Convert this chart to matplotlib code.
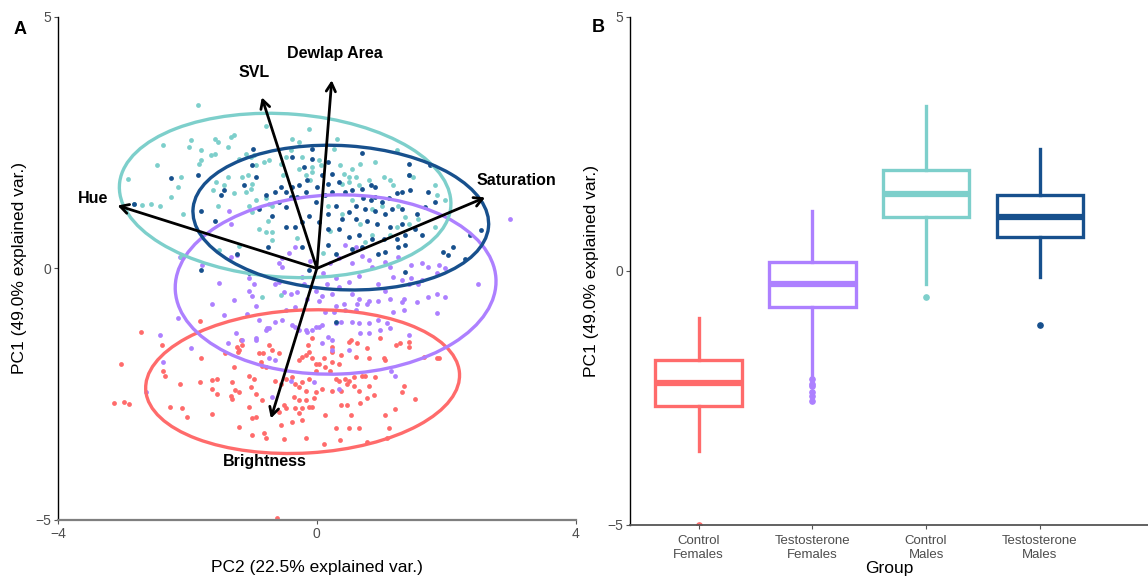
import numpy as np
import matplotlib
matplotlib.use("Agg")
import matplotlib.pyplot as plt
from matplotlib.patches import Ellipse

plt.rcParams['font.family'] = ['Liberation Sans', 'DejaVu Sans']

# ---------------- data ----------------
groups = ["Control Females", "Testosterone Females", "Control Males", "Testosterone Males"]
group_labels = ["Control\nFemales", "Testosterone\nFemales", "Control\nMales", "Testosterone\nMales"]
colors = ["#FF6B6B", "#AD80FF", "#7DCFCB", "#17508D"]

# PCA scores (PC2, PC1) per group
cf_scores = [
    (-2.71, -1.27), (-2.40, -1.53), (-3.02, -1.89), (-3.14, -2.68), (-2.98, -2.66), (-2.91, -2.70),
    (-2.37, -2.03), (-2.34, -2.13), (-2.12, -2.29), (-2.27, -2.76), (-2.08, -2.78), (-2.00, -2.96),
    (-1.79, -1.79), (-1.80, -2.26), (-1.62, -2.21), (-1.54, -2.19), (-1.62, -2.39), (-1.55, -2.50),
    (-1.62, -2.90), (-1.31, -2.26), (-1.33, -2.54), (-1.31, -2.60), (-1.26, -2.41), (-1.20, -2.46),
    (-1.42, -1.69), (-1.23, -1.56), (-1.15, -1.53), (-1.22, -1.66), (-1.28, -1.96), (-1.05, -2.13),
    (-0.97, -2.19), (-0.89, -1.69), (-0.83, -1.68), (-0.74, -1.53), (-0.69, -1.63), (-0.58, -1.69),
    (-0.87, -1.86), (-0.85, -1.93), (-0.79, -1.96), (-1.02, -2.36), (-0.94, -2.49), (-0.85, -2.62),
    (-1.05, -2.76), (-0.94, -2.96), (-1.00, -2.98), (-1.20, -3.16), (-1.00, -3.32), (-0.82, -3.28),
    (-0.79, -3.38), (-0.56, -3.12), (-0.51, -3.40), (-0.38, -3.06), (-0.28, -2.88), (-0.33, -2.78),
    (-0.23, -2.78), (-0.17, -3.38), (-0.64, -2.23), (-0.56, -2.29), (-0.48, -2.19), (-0.38, -2.16),
    (-0.33, -2.29), (-0.28, -2.36), (-0.23, -2.26), (-0.12, -2.19), (-0.17, -2.43), (-0.35, -2.56),
    (-0.28, -2.62), (-0.17, -2.62), (-0.08, -2.76), (-0.51, -2.72), (-0.48, -2.78), (-0.28, -1.83),
    (-0.23, -1.76), (-0.14, -1.53), (-0.12, -1.66), (-0.02, -1.89), (-0.02, -2.03), (-0.08, -1.39),
    (-0.58, -2.86), (-0.17, -1.73), (-0.08, -1.79), (0.11, -1.79), (0.23, -1.66), (0.23, -1.56),
    (0.38, -1.73), (0.49, -1.47), (0.52, -1.43), (0.62, -1.49), (0.60, -1.76), (0.77, -1.59),
    (0.80, -1.79), (0.98, -1.39), (1.03, -1.79), (1.06, -1.83), (1.23, -1.53), (1.29, -1.49),
    (1.42, -1.47), (1.42, -1.56), (1.65, -1.76), (1.85, -1.79), (1.88, -1.79), (0.03, -1.89),
    (0.13, -1.96), (0.23, -1.86), (0.34, -1.89), (0.21, -2.03), (0.29, -2.19), (0.34, -2.23),
    (0.44, -2.19), (0.49, -2.23), (0.57, -2.16), (0.69, -2.13), (0.75, -2.13), (0.90, -2.16),
    (0.46, -2.29), (0.57, -2.33), (0.80, -2.33), (0.65, -2.43), (0.38, -2.43), (0.08, -2.39),
    (-0.02, -2.45), (-0.05, -2.58), (0.23, -2.43), (0.88, -2.52), (0.77, -2.58), (1.34, -2.33),
    (1.31, -2.46), (1.52, -2.60), (1.21, -2.80), (1.06, -2.92), (0.38, -2.72), (0.46, -2.72),
    (0.67, -2.68), (0.52, -2.92), (0.13, -2.92), (-0.12, -2.76), (-0.23, -3.02), (0.29, -3.18),
    (0.49, -3.18), (0.65, -3.18), (1.11, -3.18), (1.08, -3.38), (0.11, -3.48), (0.36, -3.42),
    (0.77, -3.45), (-0.62, -4.97), (-1.80, -1.05), (-1.17, -1.43), (-1.20, -1.63),
]

tf_scores = [
    (-1.77, 0.06), (-1.51, -0.29), (-1.62, -0.70), (-1.28, -0.62), (-1.43, -0.93), (-1.05, -0.20),
    (-0.97, -0.30), (-1.05, -0.44), (-1.00, -0.54), (-0.94, -0.74), (-1.08, -0.91), (-0.89, -1.03),
    (-0.77, -1.19), (-0.64, -1.07), (-0.64, -0.30), (-0.58, -0.27), (-0.51, -0.47), (-0.40, -0.50),
    (-0.31, -0.47), (-0.02, -0.44), (0.03, -0.64), (0.08, -0.54), (-0.33, -0.77), (-0.48, -0.83),
    (-0.54, -1.03), (-0.33, -1.17), (-0.17, -1.23), (-0.02, -1.17), (0.08, -1.13), (-0.94, -1.43),
    (-1.25, -1.29), (-1.15, -1.43), (-1.38, -1.49), (-2.43, -1.33), (-1.94, -1.59), (-2.15, -0.99),
    (-1.33, 0.22), (-1.23, 0.26), (-0.54, 0.20), (-0.43, 0.30), (-0.33, 0.42), (-0.58, 0.10),
    (-0.54, 0.03), (-0.23, -0.17), (-0.20, -0.30), (0.44, 0.46), (0.60, 0.42), (0.80, 0.16),
    (0.85, 0.03), (1.06, 0.13), (1.13, 0.03), (1.26, 0.22), (1.46, 0.06), (1.62, 0.10),
    (1.72, 0.03), (1.88, 0.06), (1.98, 0.00), (1.85, -0.10), (1.62, -0.24), (1.46, -0.20),
    (1.31, -0.24), (1.18, -0.17), (1.42, -0.30), (1.57, -0.30), (2.49, -0.30), (1.85, -0.50),
    (1.98, -0.57), (1.72, -0.57), (1.54, -0.67), (1.34, -0.60), (1.31, -0.67), (1.13, -0.60),
    (0.95, -0.64), (0.80, -0.64), (0.65, -0.60), (0.54, -0.50), (0.49, -0.27), (0.34, -0.37),
    (0.23, -0.50), (0.42, -0.70), (0.62, -0.70), (0.77, -0.70), (0.29, -0.74), (0.13, -0.87),
    (0.26, -0.87), (0.44, -0.83), (0.60, -0.83), (1.18, -0.87), (1.34, -0.83), (1.85, -0.89),
    (0.38, -1.07), (0.54, -1.07), (0.65, -1.09), (0.80, -1.09), (0.95, -1.03), (1.08, -1.09),
    (0.98, -1.23), (1.13, -1.19), (0.18, -1.37), (0.23, -1.43), (0.67, -1.29), (0.23, -1.63),
    (0.49, -1.63), (0.08, -1.49), (-2.38, -1.86), (-0.94, -1.39), (-0.79, -1.23), (-0.74, -1.19),
    (-0.38, -1.13), (-0.28, -1.23), (-0.15, -1.27), (-0.08, -1.23), (-0.74, -1.79), (-0.64, -1.83),
    (-0.40, -2.23), (-0.69, -2.56), (-2.64, -2.46), (0.29, -1.09), (0.80, -1.29), (1.42, -1.33),
    (1.15, -2.03), (1.21, -2.13), (-0.05, -2.26), (0.34, -2.39), (0.03, -1.17), (2.98, 0.99),
    (-2.12, 0.22), (-1.35, 1.15), (-1.33, 0.89), (0.10, -0.10), (0.20, 0.10), (-0.10, 0.15),
    (0.30, -0.20), (0.55, 0.10), (0.65, -0.15), (0.95, -0.30), (1.05, -0.45), (0.15, -0.30),
    (-0.15, -0.60), (0.70, 0.25), (0.35, 0.20),
]

cm_scores = [
    (-1.84, 3.25), (-2.38, 2.46), (-2.47, 2.05), (-2.92, 1.77), (-2.82, 1.29), (-2.70, 1.27),
    (-2.56, 1.29), (-2.43, 1.25), (-2.25, 1.42), (-2.15, 1.62), (-2.10, 1.82), (-2.07, 1.09),
    (-1.94, 2.56), (-1.97, 2.41), (-1.79, 2.35), (-1.64, 2.25), (-1.58, 2.28), (-1.79, 2.15),
    (-1.82, 2.08), (-1.58, 2.58), (-1.53, 2.52), (-1.38, 2.41), (-1.33, 2.61), (-1.28, 2.66),
    (-1.20, 2.18), (-1.10, 2.28), (-1.02, 2.21), (-0.97, 2.25), (-0.94, 2.05), (-0.82, 2.11),
    (-0.74, 2.15), (-1.15, 1.82), (-1.07, 1.85), (-1.00, 1.68), (-1.56, 1.72), (-1.43, 1.65),
    (-1.38, 1.82), (-1.61, 1.55), (-1.28, 1.49), (-1.10, 1.52), (-1.02, 1.58), (-0.94, 1.35),
    (-1.53, 1.25), (-1.05, 1.25), (-1.00, 1.12), (-0.79, 1.39), (-0.74, 1.29), (-0.69, 1.25),
    (-0.76, 0.95), (-0.69, 0.72), (-0.69, 0.56), (-0.79, 2.84), (-0.12, 2.78), (-0.38, 2.58),
    (-0.28, 2.51), (-0.40, 2.35), (-0.23, 2.21), (-0.28, 1.98), (-0.17, 1.85), (-0.07, 2.01),
    (-0.48, 2.21), (-0.56, 2.08), (-0.53, 1.85), (-0.89, 0.79), (-0.79, 0.72), (0.31, 2.58),
    (0.26, 2.38), (0.03, 2.15), (0.06, 2.05), (-0.07, 1.91), (-0.10, 1.75), (0.36, 2.05),
    (0.42, 1.88), (0.54, 1.98), (0.67, 2.08), (0.90, 2.11), (0.49, 1.82), (0.60, 1.82),
    (0.65, 1.65), (0.49, 1.72), (0.39, 1.68), (0.80, 1.75), (1.03, 1.82), (1.13, 1.75),
    (1.24, 2.35), (1.42, 1.85), (1.49, 1.82), (1.18, 1.65), (1.26, 1.25), (1.83, 1.65),
    (1.85, 1.45), (1.98, 1.35), (1.00, 1.25), (0.85, 1.19), (0.54, 1.35), (0.39, 1.09),
    (0.18, 1.25), (0.67, 0.89), (0.85, 0.66), (0.75, 0.52), (1.24, 0.82), (1.36, 1.02),
    (1.42, 0.89), (1.57, 0.99), (1.83, 0.82), (1.13, 0.66), (-0.84, -0.57), (-2.10, 0.22),
    (-1.51, 0.36), (-0.55, -0.52), (0.10, 0.30), (-0.30, 0.60), (0.20, 0.75), (-1.20, 0.45),
]

tm_scores = [
    (-0.98, 2.38), (-1.00, 2.05), (-0.94, 1.82), (-1.12, 1.65), (-1.43, 1.55), (-1.48, 1.45),
    (-2.25, 1.79), (-1.84, 1.85), (-1.79, 1.15), (-1.58, 0.95), (-2.82, 1.29), (-0.64, 1.52),
    (-0.56, 1.62), (-0.48, 1.52), (-0.38, 1.62), (-0.40, 1.42), (-0.58, 1.32), (-0.48, 1.22),
    (-0.30, 1.42), (-0.28, 1.65), (-0.17, 1.52), (-0.15, 1.75), (-0.20, 2.01), (-0.38, 2.21),
    (-0.07, 2.18), (-0.12, 1.05), (-0.23, 0.92), (-0.33, 0.82), (-0.48, 0.82), (-0.69, 1.05),
    (-0.89, 1.19), (-0.79, 1.45), (-0.07, 2.38), (0.18, 2.11), (0.08, 1.85), (0.24, 1.88),
    (0.00, 1.62), (0.18, 1.68), (0.34, 1.72), (0.24, 1.52), (0.13, 1.45), (-0.02, 1.32),
    (0.29, 1.25), (0.44, 1.52), (0.54, 1.55), (0.70, 1.58), (0.83, 1.65), (0.90, 1.62),
    (0.72, 1.39), (0.83, 1.35), (0.90, 1.42), (1.00, 1.32), (1.11, 1.39), (1.24, 1.49),
    (1.31, 1.52), (1.44, 1.55), (1.42, 1.85), (1.72, 1.52), (1.83, 1.32), (1.67, 1.22),
    (1.54, 1.09), (1.31, 1.19), (1.16, 1.19), (1.06, 1.09), (0.90, 1.15), (0.75, 1.19),
    (0.60, 1.25), (0.49, 1.12), (0.39, 0.99), (0.60, 0.99), (0.77, 0.95), (0.93, 0.89),
    (1.13, 0.82), (1.31, 0.89), (1.52, 0.79), (1.62, 0.66), (1.36, 0.66), (1.24, 0.59),
    (1.03, 0.59), (0.85, 0.59), (0.65, 0.66), (0.49, 0.62), (0.34, 0.79), (0.18, 0.79),
    (0.03, 0.92), (0.18, 1.09), (2.36, 0.66), (2.54, 0.76), (0.70, 2.29), (1.42, 2.08),
    (1.75, 2.05), (0.18, 0.46), (0.54, 0.39), (0.70, 0.42), (1.06, 0.32), (1.26, 0.42),
    (1.36, 0.46), (1.36, -0.07), (1.95, 0.32), (2.03, 0.26), (2.11, 0.42), (2.29, 0.19),
    (0.29, 0.29), (0.95, 0.29), (0.29, -1.07), (-1.79, -0.03), (-1.05, -0.10), (-1.23, 0.29),
    (-0.76, 0.42), (-0.23, 0.42), (-0.12, -0.04),
]
scores = [cf_scores, tf_scores, cm_scores, tm_scores]

# 68% normal-probability ellipses: centre (PC2, PC1), semi-axes, rotation (deg)
ell_center = [(-0.22, -2.25), (0.29, -0.32), (-0.49, 1.45), (0.37, 1.01)]
ell_semi_a = [2.43, 2.48, 2.57, 2.29]
ell_semi_b = [1.42, 1.78, 1.62, 1.43]
ell_angle = [4.5, 3.0, -6.0, -5.0]

# variable loadings (arrow tips) and label positions
var_names = ["Hue", "SVL", "Dewlap Area", "Saturation", "Brightness"]
var_tips = [(-3.08, 1.25), (-0.85, 3.40), (0.23, 3.74), (2.60, 1.41), (-0.71, -2.98)]
var_label_pos = [(-3.46, 1.39), (-0.97, 3.90), (0.28, 4.27), (3.09, 1.75), (-0.80, -3.84)]

# PC1 box-plot summaries per group
box_q1 = [-2.65, -0.71, 1.06, 0.67]
box_med = [-2.20, -0.25, 1.51, 1.06]
box_q3 = [-1.76, 0.18, 1.98, 1.49]
box_whislo = [-3.55, -2.06, -0.25, -0.12]
box_whishi = [-0.92, 1.18, 3.25, 2.39]
box_fliers = [[-5.0], [-2.13, -2.23, -2.26, -2.39, -2.46, -2.56], [-0.52], [-1.06]]

# ---------------- figure ----------------
fig = plt.figure(figsize=(11.48, 5.81), dpi=100)
axA = fig.add_axes([0.0505, 0.105, 0.451, 0.866])
axB = fig.add_axes([0.549, 0.0964, 0.451, 0.8746])

tick_gray = "#4D4D4D"

# Panel A: biplot
for pts, col in zip(scores, colors):
    arr = np.array(pts)
    axA.scatter(arr[:, 0], arr[:, 1], s=12, color=col, linewidths=0, zorder=2)

for (cx, cy), a, b, ang, col in zip(ell_center, ell_semi_a, ell_semi_b, ell_angle, colors):
    axA.add_patch(Ellipse((cx, cy), 2 * a, 2 * b, angle=ang, fill=False,
                          edgecolor=col, linewidth=2.4, zorder=3))

for (tx, ty) in var_tips:
    axA.annotate("", xy=(tx, ty), xytext=(0, 0),
                 arrowprops=dict(arrowstyle="->,head_length=0.6,head_width=0.33",
                                 color="black", lw=2.0, shrinkA=0, shrinkB=0),
                 zorder=4)
for name, (lx, ly) in zip(var_names, var_label_pos):
    axA.text(lx, ly, name, ha="center", va="center", fontsize=11.5,
             fontweight="bold", color="black", zorder=5)

axA.set_xlim(-4, 4)
axA.set_ylim(-5, 5)
axA.set_xticks([-4, 0, 4])
axA.set_yticks([-5, 0, 5])
axA.set_xlabel("PC2 (22.5% explained var.)", fontsize=12.5, labelpad=14)
axA.set_ylabel("PC1 (49.0% explained var.)", fontsize=12.5, labelpad=6)

# Panel B: box plots
stats = []
for i in range(4):
    stats.append(dict(med=box_med[i], q1=box_q1[i], q3=box_q3[i],
                      whislo=box_whislo[i], whishi=box_whishi[i],
                      fliers=box_fliers[i], label=group_labels[i]))
positions = [1, 2, 3, 4]
bp = axB.bxp(stats, positions=positions, widths=0.76, showcaps=False,
             patch_artist=True)
for i, col in enumerate(colors):
    bp['boxes'][i].set(facecolor="white", edgecolor=col, linewidth=2.4)
    bp['medians'][i].set(color=col, linewidth=4.5, solid_capstyle="butt")
    for w in bp['whiskers'][2 * i:2 * i + 2]:
        w.set(color=col, linewidth=2.4)
    bp['fliers'][i].set(marker="o", markerfacecolor=col, markeredgecolor=col,
                        markersize=3.8)

axB.set_xlim(0.4, 4.95)
axB.set_ylim(-5, 5)
axB.set_yticks([-5, 0, 5])
axB.set_xticks(positions)
axB.set_xticklabels(group_labels, fontsize=9.5, color=tick_gray, linespacing=1.25)
axB.set_xlabel("Group", fontsize=12.5, labelpad=0)
axB.set_ylabel("PC1 (49.0% explained var.)", fontsize=12.5, labelpad=6)

for ax in (axA, axB):
    for s in ("top", "right"):
        ax.spines[s].set_visible(False)
    ax.spines["left"].set_color("black")
    ax.spines["left"].set_linewidth(1.0)
    ax.tick_params(axis="both", length=3, width=0.8, color="#555555",
                   labelcolor=tick_gray, labelsize=10, pad=2)
axA.spines["bottom"].set_color("#7F7F7F")
axA.spines["bottom"].set_linewidth(1.6)
axB.spines["bottom"].set_color("#555555")
axB.spines["bottom"].set_linewidth(1.3)
axB.tick_params(axis="x", labelsize=9.5, pad=4)

fig.text(20 / 1148, 1 - 30 / 581, "A", fontsize=13, fontweight="bold", ha="center", va="center")
fig.text(598 / 1148, 1 - 27 / 581, "B", fontsize=13, fontweight="bold", ha="center", va="center")

fig.savefig("out.png", dpi=100)
